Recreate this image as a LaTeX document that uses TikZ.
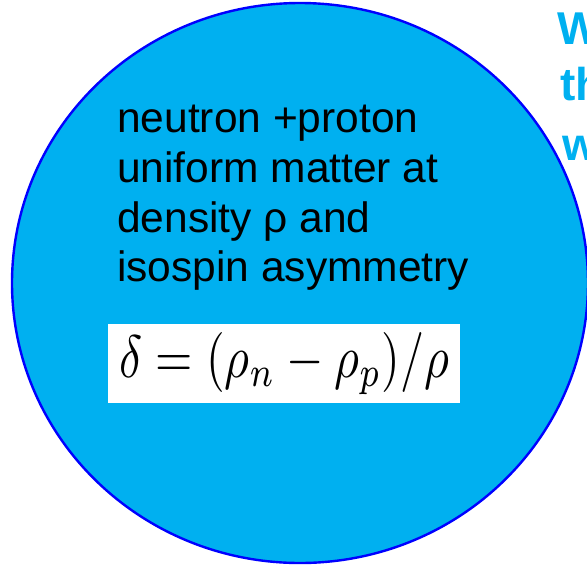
\documentclass[tikz,border=0pt]{standalone}
\usepackage[no-math]{fontspec}
\setmainfont{Liberation Sans}
\usetikzlibrary{positioning, shapes.geometric}
\definecolor{skyfill}{RGB}{0,176,240}
\definecolor{rimblue}{RGB}{0,0,255}

\begin{document}
\begin{tikzpicture}[
      x=1pt, y=-1pt,
      matter/.style={
        ellipse,
        draw=rimblue,
        line width=2.4pt,
        fill=skyfill,
        minimum width=576pt,
        minimum height=560pt,
        inner sep=0pt
      },
      bodytext/.style={align=left, anchor=north west, inner sep=0pt,
        font=\fontsize{42.5}{49.7}\selectfont},
      formula/.style={fill=white, minimum width=352pt, minimum height=79pt, inner sep=0pt},
      question/.style={anchor=base west, inner sep=0pt, text=skyfill,
        font=\fontsize{46}{58}\selectfont\bfseries}
    ]
    \useasboundingbox (0,0) rectangle (587,566);
    % Uniform matter
    \node [matter] (sphere) at (300,283) {};
    \node [bodytext] (desc) at (117,105) {neutron +proton\\uniform matter at\\density ρ and\\isospin asymmetry};
    \node [formula] (delta) at (284,363.5) {\scalebox{4.8}[6.0]{$\delta = (\rho_n - \rho_p)/\rho$}\hspace{10pt}};

    % Question text, cut at the edge
    \node [question] (qa) at (557,44) {W};
    \node [question] (qb) at (560,100) {th};
    \node [question] (qc) at (562,160) {w};
  \end{tikzpicture}
\end{document}
